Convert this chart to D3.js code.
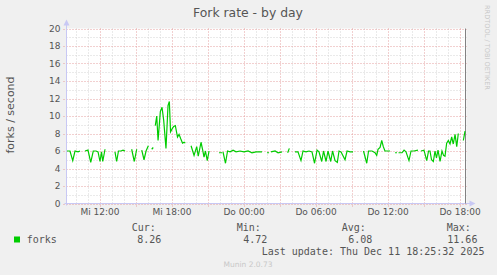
<!DOCTYPE html>
<html lang="de">
<head>
<meta charset="UTF-8">
<title>Fork rate - by day</title>
<style>
    body { margin: 0; background: #f0f0f0; }
    svg { display: block; }
    .tick text { font-family: "DejaVu Sans", sans-serif; font-size: 9px; fill: #555; }
    .legend text { font-family: "DejaVu Sans Mono", monospace; font-size: 10px; fill: #555; }
</style>
<script src="https://d3js.org/d3.v7.min.js"></script>
</head>
<body>
<script>
// hours counted from Wed 00:00, null = no data (gap in the line)
const forks = [
    [9.29,6.0],[9.54,6.0],[9.77,4.9],[9.96,6.0],[10.21,5.9],[10.38,6.0],[10.5,null],
    [10.79,6.0],[11.04,6.1],[11.27,4.7],[11.48,6.0],[11.71,6.0],[11.88,5.9],[12.04,4.8],[12.17,5.9],[12.27,4.8],[12.46,6.2],[12.7,null],
    [13.29,5.9],[13.43,4.8],[13.58,6.0],[13.79,6.0],[13.96,6.1],[14.13,6.0],[14.4,null],
    [14.68,6.2],[14.9,4.8],[15.1,6.2],[15.3,null],
    [15.52,6.1],[15.71,5.0],[15.88,6.0],[16.07,6.6],[16.2,null],
    [16.35,6.2],[16.48,6.4],[16.58,null],
    [16.65,8.9],[16.77,10.0],[16.88,7.2],[17.07,10.5],[17.21,11.0],[17.35,9.5],[17.54,6.3],[17.71,11.2],[17.82,11.66],[17.92,8.2],
    [18.04,8.5],[18.18,8.8],[18.32,8.9],[18.5,7.6],[18.63,7.9],[18.77,7.4],[18.92,6.9],[19.06,7.0],[19.15,6.9],[19.4,null],
    [19.63,6.6],[19.88,5.5],[20.1,6.5],[20.23,5.4],[20.46,7.0],[20.6,6.1],[20.71,5.3],[20.83,6.0],[20.98,4.9],[21.13,6.0],[21.4,null],
    [21.96,5.8],[22.21,5.8],[22.25,null],
    [22.29,5.9],[22.5,4.6],[22.67,6.0],[22.88,5.9],[23.13,6.1],[23.38,5.9],[23.71,6.0],[24.04,5.9],[24.38,6.0],[24.71,5.8],[25.04,5.9],[25.38,5.9],[25.54,5.9],[25.8,null],
    [25.96,5.8],[26.13,5.8],[26.2,null],
    [26.29,5.9],[26.63,6.0],[26.88,5.8],[27.21,5.9],[27.5,null],
    [27.68,5.8],[27.82,6.3],[28.0,null],
    [28.29,5.9],[28.54,5.9],[28.79,4.9],[28.96,6.0],[29.21,5.9],[29.46,6.0],[29.71,5.9],[29.92,4.6],[30.13,6.1],[30.29,5.9],[30.52,4.8],[30.67,6.0],
    [30.88,4.8],[31.04,6.0],[31.27,4.8],[31.42,6.0],[31.63,4.9],[31.82,4.7],[31.96,6.0],[32.13,5.9],[32.46,5.0],[32.63,6.0],[32.88,5.9],[33.13,5.9],[33.4,null],
    [34.0,6.0],[34.27,4.6],[34.42,6.0],[34.71,6.0],[34.96,5.8],[35.1,5.5],[35.21,6.2],[35.38,6.4],[35.52,7.2],[35.65,6.5],[35.79,6.0],[36.04,6.0],[36.21,6.0],[36.4,null],
    [36.63,5.8],[36.79,5.8],[36.85,null],
    [36.92,5.8],[37.21,5.8],[37.38,6.1],[37.54,5.9],[37.79,4.9],[37.96,6.0],[38.21,6.0],[38.54,6.1],[38.7,null],
    [38.79,6.0],[39.04,6.1],[39.27,4.9],[39.42,6.0],[39.54,6.0],[39.67,5.0],[39.82,4.8],[39.96,6.0],[40.08,5.2],[40.21,6.1],[40.38,4.8],[40.54,6.0],
    [40.67,5.5],[40.79,5.4],[40.93,6.9],[41.07,7.2],[41.21,6.8],[41.35,7.6],[41.48,6.8],[41.63,7.9],[41.77,6.5],[41.9,8.0],[42.1,null],
    [42.32,7.2],[42.46,8.26]
];
const xTickHours = [12, 18, 24, 30, 36, 42];
const xTickLabels = ["Mi 12:00", "Mi 18:00", "Do 00:00", "Do 06:00", "Do 12:00", "Do 18:00"];
const yTicks = [0, 2, 4, 6, 8, 10, 12, 14, 16, 18, 20];
const statLabels = ["Cur:", "Min:", "Avg:", "Max:"];
const statValues = ["8.26", "4.72", "6.08", "11.66"];

const width = 497, height = 275;
const plot = {left: 66.5, right: 466.5, top: 28.5, bottom: 203.5};
const wed = new Date(2025, 11, 10, 0, 0, 0);
const toDate = h => new Date(wed.getTime() + h * 3600e3);

const svg = d3.select("body").append("svg")
    .attr("width", width)
    .attr("height", height);

const x = d3.scaleTime()
    .domain([toDate(9.25), toDate(9.25 + 400 * 5 / 60)])
    .range([plot.left, plot.right]);
const y = d3.scaleLinear()
    .domain([0, 20])
    .range([plot.bottom, plot.top]);

// title and side texts
svg.append("text")
    .attr("x", 248).attr("y", 17)
    .attr("text-anchor", "middle")
    .style("font-family", "DejaVu Sans, sans-serif")
    .style("font-size", "12.4px")
    .style("fill", "#555")
    .text("Fork rate - by day");

svg.append("text")
    .attr("transform", "translate(14,115) rotate(-90)")
    .attr("text-anchor", "middle")
    .style("font-family", "DejaVu Sans, sans-serif")
    .style("font-size", "11px")
    .style("fill", "#555")
    .text("forks / second");

svg.append("text")
    .attr("transform", "translate(485,5) rotate(90)")
    .style("font-family", "DejaVu Sans, sans-serif")
    .style("font-size", "6.6px")
    .style("fill", "#c8c8c8")
    .text("RRDTOOL / TOBI OETIKER");

// plot area
svg.append("rect")
    .attr("x", plot.left).attr("y", plot.top)
    .attr("width", plot.right - plot.left)
    .attr("height", plot.bottom - plot.top)
    .attr("fill", "#fff");

const grid = svg.append("g").attr("stroke-dasharray", "1,2").attr("stroke-width", 1);

// minor grid
grid.selectAll(".hmin").data(d3.range(0, 21).filter(v => v % 2))
    .join("line")
    .attr("x1", plot.left).attr("x2", plot.right)
    .attr("y1", d => Math.round(y(d)) + 0.5).attr("y2", d => Math.round(y(d)) + 0.5)
    .attr("stroke", "#d4d4d4");
grid.selectAll(".vmin").data(d3.timeHour.range(x.domain()[0], x.domain()[1]).filter(d => d.getHours() % 3))
    .join("line")
    .attr("x1", d => Math.round(x(d)) + 0.5).attr("x2", d => Math.round(x(d)) + 0.5)
    .attr("y1", plot.top).attr("y2", plot.bottom)
    .attr("stroke", "#d4d4d4");

// major grid (extends a little over the axes as ticks)
grid.selectAll(".hmaj").data(yTicks)
    .join("line")
    .attr("x1", plot.left - 3).attr("x2", plot.right + 2)
    .attr("y1", d => Math.round(y(d)) + 0.5).attr("y2", d => Math.round(y(d)) + 0.5)
    .attr("stroke", "#e4a0a0");
grid.selectAll(".vmaj").data(d3.timeHour.range(x.domain()[0], x.domain()[1]).filter(d => d.getHours() % 3 === 0))
    .join("line")
    .attr("x1", d => Math.round(x(d)) + 0.5).attr("x2", d => Math.round(x(d)) + 0.5)
    .attr("y1", plot.top).attr("y2", plot.bottom + 3)
    .attr("stroke", "#e4a0a0");

// axes labels
svg.append("g")
    .attr("transform", `translate(${plot.left},0)`)
    .call(d3.axisLeft(y).tickValues(yTicks).tickSize(0).tickPadding(6))
    .call(g => g.select(".domain").remove());

svg.append("g")
    .attr("transform", `translate(0,${plot.bottom})`)
    .call(d3.axisBottom(x).tickValues(xTickHours.map(toDate)).tickSize(0).tickPadding(5.5)
        .tickFormat((d, i) => xTickLabels[i]))
    .call(g => g.select(".domain").remove());

// axis lines with arrows
const axisColor = "#c8c8f4";
svg.append("line")
    .attr("x1", plot.left).attr("x2", plot.left)
    .attr("y1", plot.bottom + 2).attr("y2", plot.top - 4)
    .attr("stroke", axisColor);
svg.append("path")
    .attr("d", `M${plot.left - 3},${plot.top - 3}L${plot.left + 3},${plot.top - 3}L${plot.left},${plot.top - 9}Z`)
    .attr("fill", axisColor);
svg.append("line")
    .attr("x1", plot.left - 2).attr("x2", plot.right + 4)
    .attr("y1", plot.bottom).attr("y2", plot.bottom)
    .attr("stroke", axisColor);
svg.append("path")
    .attr("d", `M${plot.right + 3},${plot.bottom - 3}L${plot.right + 3},${plot.bottom + 3}L${plot.right + 9},${plot.bottom}Z`)
    .attr("fill", axisColor);

// "now" marker
svg.append("line")
    .attr("x1", x(toDate(42.46)) + 0.5).attr("x2", x(toDate(42.46)) + 0.5)
    .attr("y1", plot.top).attr("y2", plot.bottom)
    .attr("stroke", "#808080");

// data line
const line = d3.line()
    .defined(d => d[1] !== null)
    .x(d => x(toDate(d[0])))
    .y(d => y(d[1]));

svg.append("path")
    .datum(forks)
    .attr("fill", "none")
    .attr("stroke", "#00cc00")
    .attr("stroke-width", 1.2)
    .attr("d", line);

// legend
const legend = svg.append("g").attr("class", "legend");
legend.append("rect")
    .attr("x", 14).attr("y", 236.5)
    .attr("width", 6).attr("height", 6)
    .attr("fill", "#00cc00");
legend.append("text").attr("x", 26.7).attr("y", 243).text("forks");

const labelX = [131.7, 236.7, 341.7, 446.7];
const valueX = [137.3, 243.3, 348.3, 447.3];
legend.selectAll(".lab").data(statLabels)
    .join("text")
    .attr("x", (d, i) => labelX[i]).attr("y", 231)
    .text(d => d);
legend.selectAll(".val").data(statValues)
    .join("text")
    .attr("x", (d, i) => valueX[i]).attr("y", 243)
    .text(d => d);
legend.append("text").attr("x", 261.7).attr("y", 255)
    .text("Last update: Thu Dec 11 18:25:32 2025");

svg.append("text")
    .attr("x", 248).attr("y", 267)
    .attr("text-anchor", "middle")
    .style("font-family", "DejaVu Sans, sans-serif")
    .style("font-size", "7.5px")
    .style("fill", "#c8c8c8")
    .text("Munin 2.0.73");
</script>
</body>
</html>
